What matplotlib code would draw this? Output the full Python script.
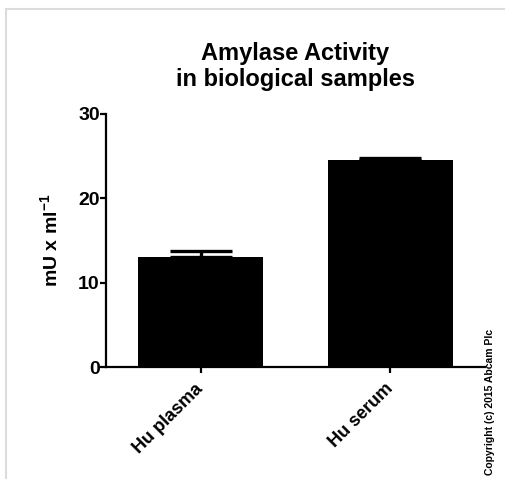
import matplotlib
matplotlib.use("Agg")
import matplotlib.pyplot as plt
from matplotlib.lines import Line2D

# data
samples = ["Hu plasma", "Hu serum"]
activity = [13.1, 24.55]
err_upper = [0.6, 0.2]
y_ticks = [0, 10, 20, 30]

plt.rcParams['font.family'] = ['Liberation Sans', 'DejaVu Sans']
plt.rcParams['font.weight'] = 'bold'
plt.rcParams['mathtext.fontset'] = 'custom'
plt.rcParams['mathtext.rm'] = 'Liberation Sans:bold'
plt.rcParams['mathtext.bf'] = 'Liberation Sans:bold'
plt.rcParams['mathtext.default'] = 'bf'

fig = plt.figure(figsize=(5.06, 4.79), dpi=100)
ax = fig.add_axes([106 / 506, 1 - 367 / 479, 379 / 506, 253 / 479])

x = list(range(len(samples)))
ax.bar(x, activity, width=0.66, color='black', zorder=2)
ax.errorbar(x, activity, yerr=[[0] * len(x), err_upper], fmt='none',
            ecolor='black', elinewidth=2.4, capsize=22, capthick=2.4, zorder=1)

ax.set_xlim(-0.5, 1.5)
ax.set_ylim(0, 30)
ax.set_yticks(y_ticks)
ax.set_xticks(x)
ax.set_xticklabels(samples, rotation=45, ha='right', va='center',
                   rotation_mode='anchor', fontsize=13, fontweight='bold')
ax.tick_params(axis='y', labelsize=14, width=1.6, length=4, pad=0.5)
ax.tick_params(axis='x', width=1.6, length=4, pad=10)
for lbl in ax.get_yticklabels():
    lbl.set_fontweight('bold')

for side in ['top', 'right']:
    ax.spines[side].set_visible(False)
for side in ['left', 'bottom']:
    ax.spines[side].set_linewidth(1.6)

ax.set_ylabel(r'mU x ml$^{-1}$', fontsize=14, fontweight='bold', labelpad=12)
ax.set_title('Amylase Activity\nin biological samples', fontsize=17,
             fontweight='bold', pad=20, linespacing=1.2)

fig.text(490 / 506, 4 / 479, 'Copyright (c) 2015 Abcam Plc', rotation=90,
         ha='center', va='bottom', fontsize=7.5, fontweight='bold')

# light gray frame at top and left edges
fig.add_artist(Line2D([6 / 506, 6 / 506], [0, 1 - 9 / 479], transform=fig.transFigure,
                      color='#dcdcdc', lw=1.5))
fig.add_artist(Line2D([6 / 506, 1], [1 - 9 / 479, 1 - 9 / 479], transform=fig.transFigure,
                      color='#dcdcdc', lw=1.5))

fig.savefig('out.png', dpi=100, facecolor='white')
